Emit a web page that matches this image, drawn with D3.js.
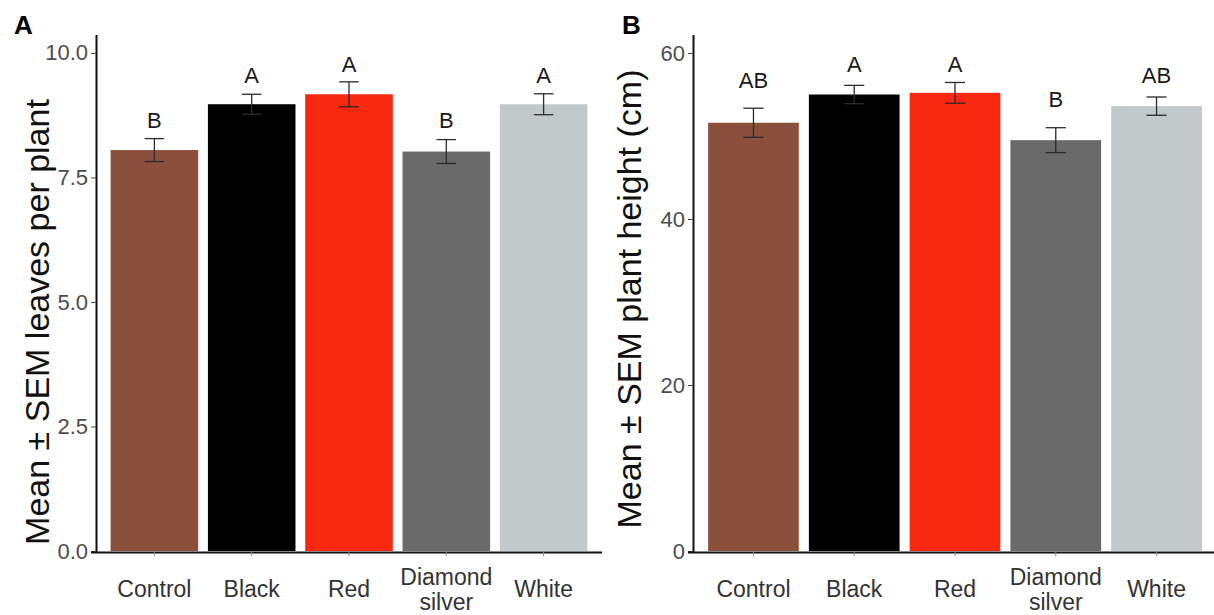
<!DOCTYPE html>
<html>
<head>
<meta charset="utf-8">
<script src="https://cdn.jsdelivr.net/npm/d3@7"></script>
<style>
  body { margin: 0; background: #fff; }
  svg { display: block; font-family: "Liberation Sans", Arial, sans-serif; }
</style>
</head>
<body>
<svg id="chart" width="1214" height="615"></svg>
<script>
// groups on the x axis (same for both panels)
const categories = ["Control", "Black", "Red", "Diamond\nsilver", "White"];
const barColors = ["#8a503c", "#000000", "#f8270f", "#6a6a6a", "#c1c9ca"];

// panel A: leaves per plant
const leavesMean = [8.05, 8.97, 9.17, 8.02, 8.97];
const leavesSem = [0.23, 0.20, 0.25, 0.24, 0.21];
const leavesLetters = ["B", "A", "A", "B", "A"];
const leavesLetterY = [8.49, 9.40, 9.62, 8.49, 9.40];
const leavesTicks = [0, 2.5, 5, 7.5, 10];

// panel B: plant height (cm)
const heightMean = [51.6, 55.0, 55.2, 49.5, 53.6];
const heightSem = [1.75, 1.10, 1.25, 1.50, 1.10];
const heightLetters = ["AB", "A", "A", "B", "AB"];
const heightLetterY = [55.8, 57.7, 57.7, 53.5, 56.4];
const heightTicks = [0, 20, 40, 60];

const svg = d3.select("#chart");

function drawPanel(opt) {
    const g = svg.append("g");

    const x = d3.scaleBand()
        .domain(categories)
        .range([opt.left, opt.right])
        .paddingInner(0.1)
        .paddingOuter(0.15);

    const y = d3.scaleLinear()
        .domain([0, opt.yMax])
        .range([551, 35]);

    const rows = categories.map((c, i) => ({
        cat: c, mean: opt.mean[i], sem: opt.sem[i],
        letter: opt.letters[i], ly: opt.letterY[i], color: barColors[i]
    }));

    // bars
    g.selectAll("rect.bar").data(rows).enter().append("rect")
        .attr("class", "bar")
        .attr("x", d => x(d.cat))
        .attr("width", x.bandwidth())
        .attr("y", d => y(d.mean))
        .attr("height", d => y(0) - y(d.mean))
        .attr("fill", d => d.color);

    // error bars
    const capHalf = x.step() * 0.1;
    const eb = g.selectAll("g.err").data(rows).enter().append("g")
        .attr("class", "err")
        .attr("stroke", "#2b2b2b")
        .attr("stroke-width", 1.3);
    eb.append("line")
        .attr("x1", d => x(d.cat) + x.bandwidth() / 2)
        .attr("x2", d => x(d.cat) + x.bandwidth() / 2)
        .attr("y1", d => y(d.mean - d.sem))
        .attr("y2", d => y(d.mean + d.sem));
    eb.append("line")
        .attr("x1", d => x(d.cat) + x.bandwidth() / 2 - capHalf)
        .attr("x2", d => x(d.cat) + x.bandwidth() / 2 + capHalf)
        .attr("y1", d => y(d.mean + d.sem))
        .attr("y2", d => y(d.mean + d.sem));
    eb.append("line")
        .attr("x1", d => x(d.cat) + x.bandwidth() / 2 - capHalf)
        .attr("x2", d => x(d.cat) + x.bandwidth() / 2 + capHalf)
        .attr("y1", d => y(d.mean - d.sem))
        .attr("y2", d => y(d.mean - d.sem));

    // significance letters
    g.selectAll("text.letter").data(rows).enter().append("text")
        .attr("class", "letter")
        .attr("x", d => x(d.cat) + x.bandwidth() / 2)
        .attr("y", d => y(d.ly))
        .attr("text-anchor", "middle")
        .attr("font-size", 22)
        .attr("fill", "#1a1a1a")
        .text(d => d.letter);

    // y axis
    const yAxis = g.append("g")
        .attr("transform", "translate(" + opt.left + ",0)")
        .call(d3.axisLeft(y).tickValues(opt.ticks).tickSize(5).tickPadding(3)
            .tickFormat(opt.fmt));
    yAxis.select(".domain").attr("stroke", "#111").attr("stroke-width", 2)
        .attr("d", "M0.5,35V552");
    yAxis.selectAll(".tick line").attr("stroke", "#444");
    yAxis.selectAll(".tick text").attr("font-size", 22).attr("fill", "#4d4d4d")
        .attr("font-family", "Liberation Sans, Arial, sans-serif");

    // x axis, labels split on "\n" into separate lines
    const xAxis = g.append("g")
        .attr("transform", "translate(0,552)")
        .call(d3.axisBottom(x).tickSize(4).tickFormat(""));
    xAxis.select(".domain").attr("stroke", "#111").attr("stroke-width", 2)
        .attr("d", "M" + (opt.left - 5) + ",0.5H" + opt.right);
    xAxis.selectAll(".tick line").attr("stroke", "#888");
    xAxis.selectAll(".tick").each(function(d) {
        const lines = d.split("\n");
        lines.forEach((s, k) => {
            d3.select(this).append("text")
                .attr("text-anchor", "middle")
                .attr("font-size", 23)
                .attr("fill", "#333")
                .attr("y", 45 - (lines.length - 1) * 12.5 + k * 25)
                .text(s);
        });
    });

    // axis title
    g.append("text")
        .attr("transform", "translate(" + opt.titleX + "," + opt.titleY + ") rotate(-90)")
        .attr("text-anchor", "middle")
        .attr("font-size", 34)
        .attr("fill", "#111")
        .text(opt.title);

    // panel letter
    g.append("text")
        .attr("x", opt.tagX)
        .attr("y", 34)
        .attr("font-size", 26)
        .attr("font-weight", "bold")
        .attr("fill", "#000")
        .text(opt.tag);
}

drawPanel({
    left: 96, right: 602, yMax: 10.36,
    mean: leavesMean, sem: leavesSem, letters: leavesLetters, letterY: leavesLetterY,
    ticks: leavesTicks, fmt: d3.format(".1f"),
    title: "Mean \u00b1 SEM leaves per plant", titleX: 49, titleY: 322,
    tag: "A", tagX: 14
});

drawPanel({
    left: 693, right: 1217, yMax: 62.17,
    mean: heightMean, sem: heightSem, letters: heightLetters, letterY: heightLetterY,
    ticks: heightTicks, fmt: d3.format("d"),
    title: "Mean \u00b1 SEM plant height (cm)", titleX: 641, titleY: 299,
    tag: "B", tagX: 622
});
</script>
</body>
</html>
